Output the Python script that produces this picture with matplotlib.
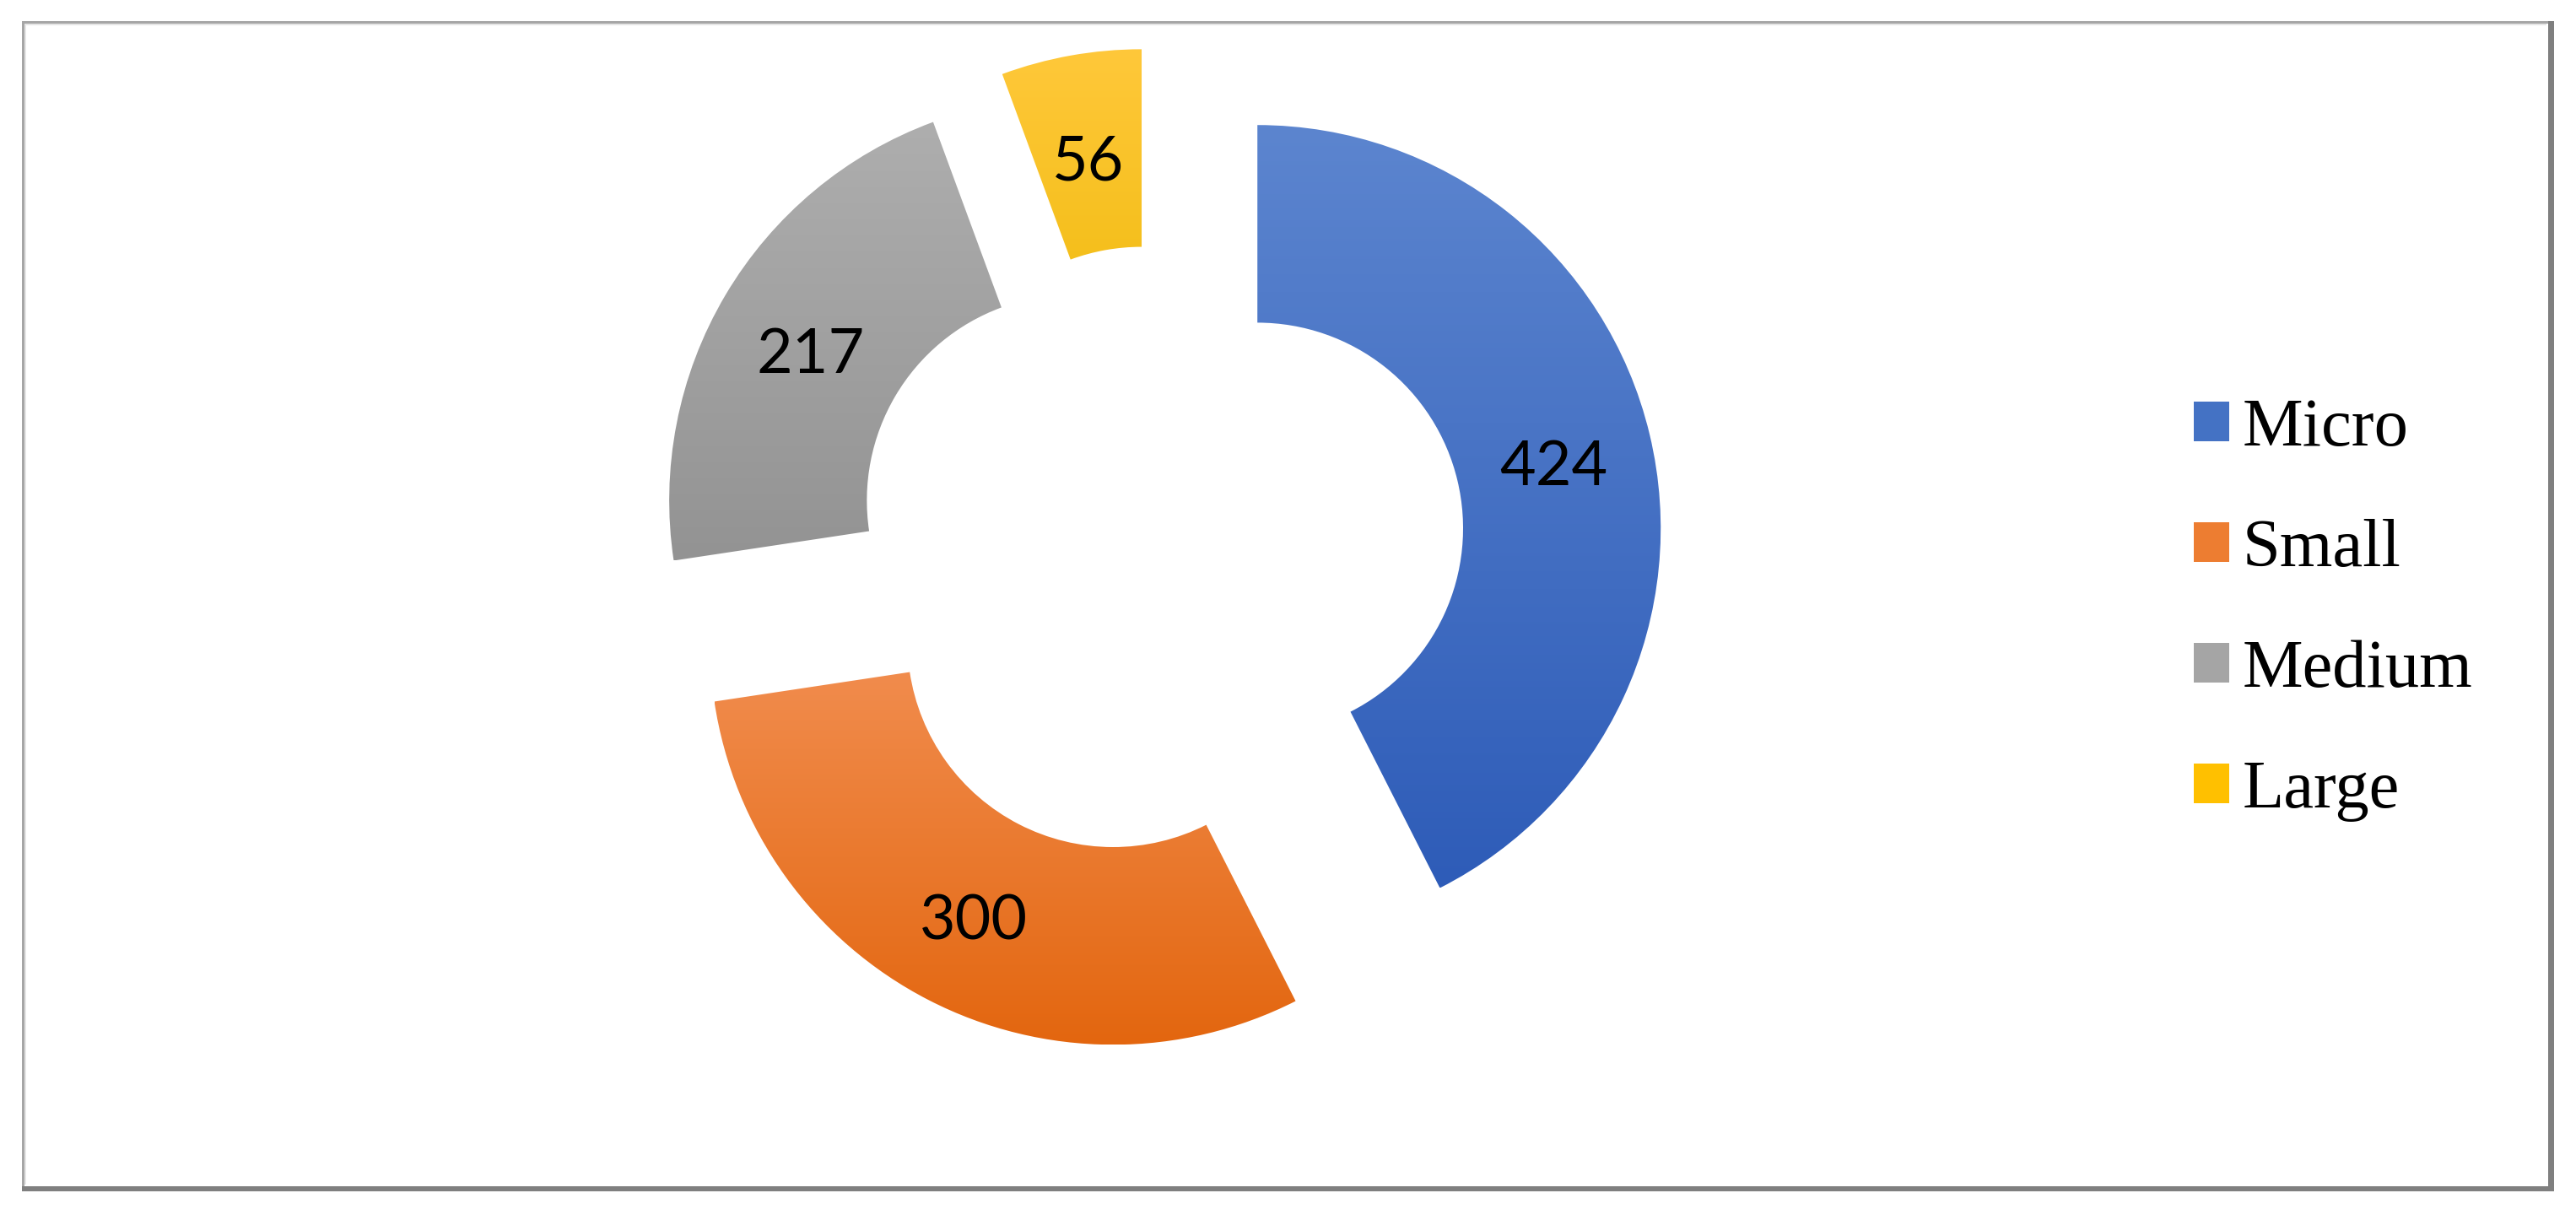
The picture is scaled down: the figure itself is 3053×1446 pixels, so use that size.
import numpy as np
import matplotlib
matplotlib.use('Agg')
import matplotlib.pyplot as plt
from matplotlib.patches import Patch, Rectangle
from matplotlib.colors import LinearSegmentedColormap

# data
categories = ['Micro', 'Small', 'Medium', 'Large']
values = [424, 300, 217, 56]

# gradient colours for each slice (top, bottom)
top_colors = ['#5C85CF', '#F28F52', '#AEAEAE', '#FFC83A']
bot_colors = ['#2E5CB8', '#E3660F', '#939393', '#EBB700']
legend_colors = ['#4472C4', '#ED7D31', '#A5A5A5', '#FFC000']

W, H = 3053, 1446
DPI = 200

fig = plt.figure(figsize=(W / DPI, H / DPI), dpi=DPI)
ax = fig.add_axes([0, 0, 1, 1])

R = 478
cx, cy = 1374, H - 654
total = sum(values)

wedges, texts, autotexts = ax.pie(
    values, startangle=90, counterclock=False, radius=R, center=(cx, cy),
    explode=[0.25 * R] * len(values),
    wedgeprops=dict(width=0.49 * R, linewidth=0),
    autopct=lambda p: '{:.0f}'.format(p * total / 100.0),
    pctdistance=0.755, frame=True,
    textprops=dict(fontsize=26.5, family='Lato', color='black'))

# vertical gradient fill clipped to every wedge
grad = np.linspace(0, 1, 256).reshape(-1, 1)
for w, c1, c2 in zip(wedges, top_colors, bot_colors):
    v = w.get_path().vertices
    cmap = LinearSegmentedColormap.from_list('g', [c2, c1])
    im = ax.imshow(grad, cmap=cmap, origin='lower', aspect='auto',
                   extent=[v[:, 0].min(), v[:, 0].max(), v[:, 1].min(), v[:, 1].max()],
                   zorder=w.get_zorder() - 0.1, interpolation='bilinear')
    im.set_clip_path(w)
    w.set_facecolor('none')

# labels sit a little lower in the original
for t in autotexts:
    x, y = t.get_position()
    t.set_position((x, y - 12))
    t.set_zorder(5)

ax.set_xlim(0, W)
ax.set_ylim(0, H)
ax.axis('off')

# legend
handles = [Patch(facecolor=c, edgecolor='none') for c in legend_colors]
leg = ax.legend(handles, categories, loc='upper left', bbox_to_anchor=(2600 / W, 1 - 472 / H),
                frameon=False, prop=dict(family='Liberation Serif', size=29),
                handlelength=0.52, handleheight=0.52, handletextpad=0.2,
                labelspacing=0.87, borderpad=0, borderaxespad=0)

# chart border with shadow
def px(x0, y0, x1, y1, color):
    fig.patches.append(Rectangle((x0 / W, 1 - y1 / H), (x1 - x0) / W, (y1 - y0) / H,
                                 transform=fig.transFigure, facecolor=color,
                                 edgecolor='none', figure=fig))

px(26, 25, 3020, 28, '#A6A6A6')
px(26, 25, 29, 1406, '#A6A6A6')
px(29, 28, 3018, 30, '#E6E6E6')
px(29, 28, 31, 1404, '#E6E6E6')
px(3020, 25, 3027, 1412, '#7F7F7F')
px(26, 1406, 3027, 1412, '#7F7F7F')

fig.savefig('out.png', dpi=DPI)
